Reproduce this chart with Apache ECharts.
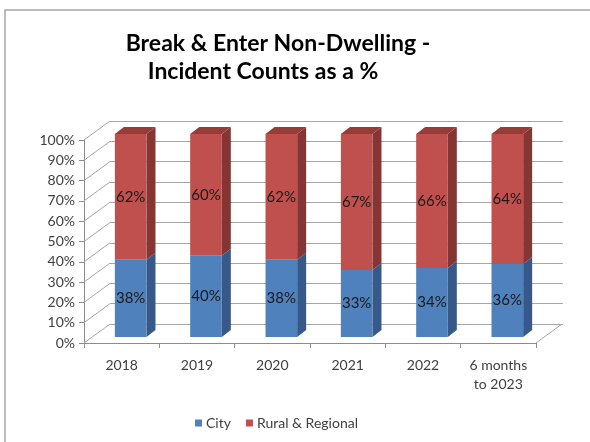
<!DOCTYPE html>
<html>
<head>
<meta charset="utf-8">
<script src="https://cdn.jsdelivr.net/npm/echarts@6/dist/echarts.min.js"></script>
<style>
  html, body { margin: 0; padding: 0; background: #fff; }
  #chart { width: 590px; height: 442px; }
</style>
</head>
<body>
<div id="chart"></div>
<script>
// chart values
const categories = ['2018', '2019', '2020', '2021', '2022', '6 months\nto 2023'];
const cityPct = [38, 40, 38, 33, 34, 36];
const ruralPct = [62, 60, 62, 67, 66, 64];
const yTicks = [0, 10, 20, 30, 40, 50, 60, 70, 80, 90, 100];

// 3d look: depth of the floor and where the bars sit inside it
const DEPTH_X = 26, DEPTH_Y = -19;
const BAR_DX = 9, BAR_DY = -6;
const BAR_SIDE_X = 9, BAR_SIDE_Y = -7;
const FONT = 'Lato';

const chart = echarts.init(document.getElementById('chart'));

function barRenderer(front, side, top, showTop) {
  return function (params, api) {
    const i = api.value(0);
    const lo = api.coord([i, api.value(1)]);
    const hi = api.coord([i, api.value(2)]);
    const bw = api.size([1, 0])[0] * 0.42;
    const x0 = lo[0] + BAR_DX - bw / 2;
    const x1 = x0 + bw;
    const yb = lo[1] + BAR_DY;
    const yt = hi[1] + BAR_DY;
    const children = [
      {
        type: 'polygon',
        shape: { points: [[x1, yb], [x1 + BAR_SIDE_X, yb + BAR_SIDE_Y], [x1 + BAR_SIDE_X, yt + BAR_SIDE_Y], [x1, yt]] },
        style: { fill: side }
      },
      {
        type: 'rect',
        shape: { x: x0, y: yt, width: bw, height: yb - yt },
        style: { fill: front }
      },
      {
        type: 'text',
        x: (x0 + x1) / 2,
        y: (yt + yb) / 2,
        style: {
          text: api.value(3) + '%',
          fill: '#1a1a1a',
          font: '15px ' + FONT,
          align: 'center',
          verticalAlign: 'middle'
        }
      }
    ];
    if (showTop) {
      children.push({
        type: 'polygon',
        shape: { points: [[x0, yt], [x1, yt], [x1 + BAR_SIDE_X, yt + BAR_SIDE_Y], [x0 + BAR_SIDE_X, yt + BAR_SIDE_Y]] },
        style: { fill: top }
      });
    }
    return { type: 'group', children: children };
  };
}

const cityData = cityPct.map((v, i) => [i, 0, v, v]);
const ruralData = ruralPct.map((v, i) => [i, cityPct[i], cityPct[i] + v, v]);
const tickData = yTicks.map(v => [0, v]);

const option = {
  animation: false,
  backgroundColor: '#fff',
  textStyle: { fontFamily: FONT },
  graphic: [
    {
      type: 'rect',
      shape: { x: 5, y: 10, width: 700, height: 600 },
      style: { fill: 'none', stroke: '#a6a6a6', lineWidth: 1.5 },
      silent: true
    }
  ],
  title: [
    {
      text: 'Break & Enter Non-Dwelling -',
      left: 273, top: 27, textAlign: 'center',
      textStyle: { fontFamily: FONT, fontWeight: 'bold', fontSize: 23, color: '#000' }
    },
    {
      text: 'Incident Counts as a %',
      left: 258, top: 55, textAlign: 'center',
      textStyle: { fontFamily: FONT, fontWeight: 'bold', fontSize: 23, color: '#000' }
    }
  ],
  legend: {
    left: 190, top: 411,
    icon: 'rect',
    itemWidth: 7, itemHeight: 7,
    itemGap: 15,
    textStyle: { fontFamily: FONT, fontSize: 14, color: '#404040', padding: [0, 0, 0, -1] },
    data: ['City', 'Rural & Regional']
  },
  grid: [
    { left: 84, right: 54, top: 140, bottom: 99 },
    { left: 110, right: 27, top: 121, bottom: 118 }
  ],
  xAxis: [
    {
      gridIndex: 0,
      type: 'category',
      data: categories,
      axisLine: { lineStyle: { color: '#8c8c8c' } },
      axisTick: { show: true, length: 5, lineStyle: { color: '#8c8c8c' } },
      axisLabel: { fontFamily: FONT, fontSize: 14, color: '#404040', margin: 13, lineHeight: 19, interval: 0 }
    },
    {
      gridIndex: 1,
      type: 'category',
      data: categories,
      show: false
    }
  ],
  yAxis: [
    {
      gridIndex: 0,
      type: 'value',
      min: 0, max: 100, interval: 10,
      axisLine: { show: true, lineStyle: { color: '#8c8c8c' } },
      axisTick: { show: true, length: 5, lineStyle: { color: '#8c8c8c' } },
      splitLine: { show: false },
      axisLabel: { formatter: '{value}%', fontFamily: FONT, fontSize: 14, color: '#404040', margin: 9 }
    },
    {
      gridIndex: 1,
      type: 'value',
      min: 0, max: 100, interval: 10,
      axisLine: { show: false },
      axisTick: { show: false },
      axisLabel: { show: false },
      splitLine: { show: true, lineStyle: { color: '#a6a6a6', width: 1 } }
    }
  ],
  series: [
    {
      name: 'depth',
      type: 'custom',
      xAxisIndex: 0, yAxisIndex: 0,
      silent: true,
      z: 1,
      data: tickData,
      renderItem: function (params, api) {
        const cs = params.coordSys;
        const y = api.coord([0, api.value(1)])[1];
        const lines = [{
          type: 'line',
          shape: { x1: cs.x, y1: y, x2: cs.x + DEPTH_X, y2: y + DEPTH_Y },
          style: { stroke: '#a6a6a6', lineWidth: 1 }
        }];
        if (api.value(1) === 0) {
          lines.push({
            type: 'line',
            shape: { x1: cs.x + cs.width, y1: y, x2: cs.x + cs.width + DEPTH_X, y2: y + DEPTH_Y },
            style: { stroke: '#a6a6a6', lineWidth: 1 }
          });
        }
        return { type: 'group', children: lines };
      }
    },
    {
      name: 'City',
      type: 'custom',
      xAxisIndex: 0, yAxisIndex: 0,
      z: 3,
      itemStyle: { color: '#4F81BD' },
      data: cityData,
      renderItem: barRenderer('#4F81BD', '#36598A', '#3E6798', false)
    },
    {
      name: 'Rural & Regional',
      type: 'custom',
      xAxisIndex: 0, yAxisIndex: 0,
      z: 3,
      itemStyle: { color: '#C0504D' },
      data: ruralData,
      renderItem: barRenderer('#C0504D', '#853634', '#963D3A', true)
    }
  ]
};

chart.setOption(option);
</script>
</body>
</html>
